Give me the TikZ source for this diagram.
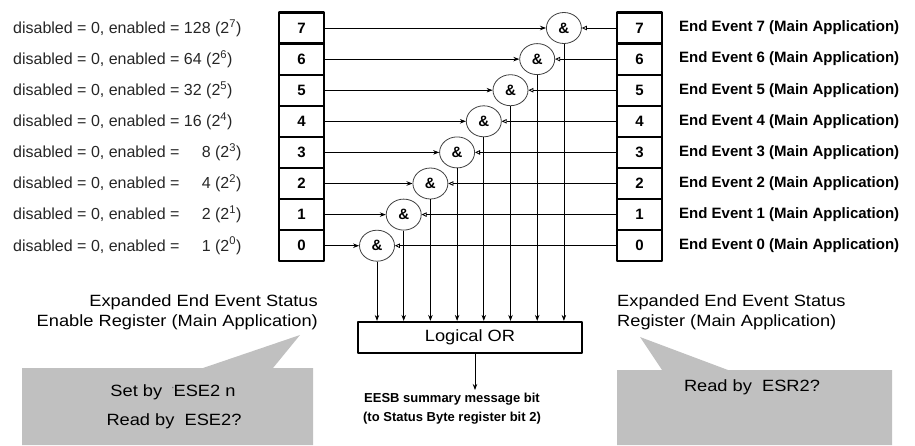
\documentclass[tikz,border=0pt]{standalone}
\usepackage{fontspec}
\setmainfont{Liberation Sans}
\newfontfamily\widefont[FakeStretch=1.12]{Liberation Sans}
\usetikzlibrary{arrows.meta,calc,shapes.geometric}
\definecolor{calloutgray}{RGB}{192,192,192}

\begin{document}
\begin{tikzpicture}[x=1pt, y=-1pt, line join=round, >={Stealth[length=6pt,width=4.5pt]},
  regcell/.style={draw, line width=2.2pt, minimum width=45pt, minimum height=31.1pt, inner sep=0pt, font=\fontsize{15}{18}\selectfont\bfseries},
  andgate/.style={draw=black!75, line width=0.8pt, ellipse, minimum width=35pt, minimum height=31pt, inner sep=0pt, fill=white, font=\fontsize{15}{18}\selectfont\bfseries},
  enabletext/.style={anchor=west, inner sep=0pt, text=black!85, font=\fontsize{16}{20}\selectfont},
  eventtext/.style={anchor=west, inner sep=0pt, font=\fontsize{15}{18}\selectfont\bfseries},
  regtext/.style={inner sep=0pt, font=\widefont\fontsize{16.3}{20}\selectfont},
  link/.style={line width=0.8pt},
  backlink/.style={line width=0.8pt, -{Triangle[open,length=5pt,width=4.5pt]}}]
  \useasboundingbox (0,0) rectangle (915,445);
  \fill[calloutgray] (22,368) -- (203,368) -- (300,335) -- (273,368) -- (313,368) -- (313,445) -- (22,445) -- cycle;
  \fill[calloutgray] (617,370) -- (662,370) -- (640,337) -- (728,370) -- (892,370) -- (892,445) -- (617,445) -- cycle;
  \foreach \i/\v in {0/\phantom{12}1,1/\phantom{12}2,2/\phantom{12}4,3/\phantom{12}8,4/16,5/32,6/64,7/128} {
    \node[regcell] (L\i) at (301.5,{28+(7-\i)*31.1}) {\i};
    \node[regcell] (R\i) at (639.5,{28+(7-\i)*31.1}) {\i};
    \node[andgate] (A\i) at ({377+26.7*\i},{28+(7-\i)*31.1}) {\&};
    \node[enabletext] (t\i) at (13,{28+(7-\i)*31.1}) {disabled = 0, enabled = \v\ (2\textsuperscript{\i})};
    \node[eventtext] (e\i) at (679,{28+(7-\i)*31.1}) {End Event \i\ (Main Application)};
  }
  \node[draw, line width=2.2pt, minimum width=224pt, minimum height=31pt, inner sep=0pt, font=\widefont\fontsize{16.3}{20}\selectfont] (or) at (470,337.5) {Logical OR};
  \foreach \i in {0,...,7} {
    \draw[link,->] (L\i.east) -- (A\i.west);
    \draw[backlink] (R\i.west) -- (A\i.east);
    \draw[link,->] (A\i.south) -- (A\i.south |- or.north);
  }
  \coordinate (sumtip) at (475,390);
  \draw[link,->] (sumtip |- or.south) -- (sumtip);
  \node[font=\fontsize{13}{19}\selectfont\bfseries, align=center] (eesb) at (452,409) {EESB summary message bit\\(to Status Byte register bit 2)};
  \node[regtext, anchor=east, align=right] (enlabel) at (318,312) {Expanded End Event Status\\Enable Register (Main Application)};
  \node[regtext, anchor=west, align=left] (stlabel) at (617,312) {Expanded End Event Status\\Register (Main Application)};
  \node[regtext] (setby) at (173,392) {Set by~~\raisebox{0.6ex}{\fontsize{6}{6}\selectfont'}ESE2 n};
  \node[regtext] (readen) at (174,421) {Read by~~ESE2?};
  \node[regtext] (readst) at (752,387) {Read by~~ESR2?};
\end{tikzpicture}
\end{document}
